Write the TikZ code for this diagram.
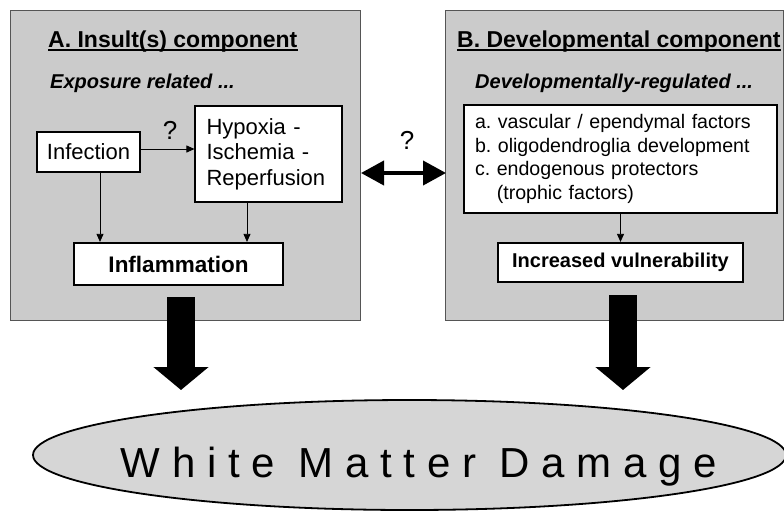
\documentclass[tikz,border=0pt]{standalone}
\usepackage{fontspec}
\setmainfont{Liberation Sans}
\newfontfamily\spacedfont[LetterSpace=28]{Liberation Sans}
\usetikzlibrary{arrows.meta,shapes.geometric}

\definecolor{panelfill}{RGB}{203,203,203}
\definecolor{ovalfill}{RGB}{214,214,214}
\definecolor{paneledge}{RGB}{85,85,85}

\begin{document}
\begin{tikzpicture}[x=1pt,y=-1pt,
  panel/.style={draw=paneledge, line width=0.9pt, fill=panelfill, inner sep=0pt},
  whitebox/.style={draw=black, fill=white, line width=1.1pt, inner sep=0pt},
  keybox/.style={draw=black, fill=white, line width=2.2pt, inner sep=0pt},
  heading/.style={anchor=base west, inner sep=0pt, font=\bfseries\fontsize{23}{27}\selectfont},
  subheading/.style={anchor=base west, inner sep=0pt, font=\bfseries\itshape\fontsize{20}{24}\selectfont},
  thinarrow/.style={-{Triangle[length=8pt,width=7pt]}, line width=0.8pt},
  bigarrow/.style={line width=28pt, -{Triangle[length=23pt,width=54pt]}},
  twoway/.style={{Triangle[length=23pt,width=24pt]}-{Triangle[length=23pt,width=24pt]}, line width=4pt},
  query/.style={inner sep=0pt}
]
\useasboundingbox (0,0) rectangle (784,512);
\fill[white] (0,0) rectangle (784,512);

% the two component panels
\node[panel, minimum width=350pt, minimum height=310pt] (panelA) at (185,165) {};
\node[panel, minimum width=338pt, minimum height=310pt] (panelB) at (614,165) {};

% panel A: insult(s) component
\node[heading] (tA) at (48,47) {A. Insult(s) component};
\draw[line width=1.5pt] ([yshift=-3pt]tA.base west) -- ([yshift=-3pt]tA.base east);
\node[subheading] (sA) at (50,88) {Exposure related ...};

\node[whitebox, minimum width=103pt, minimum height=40pt,
      font=\fontsize{22}{26}\selectfont] (inf) at (88.5,152) {Infection};
\node[whitebox, minimum width=147pt, minimum height=96pt, text width=124pt,
      align=left, font=\fontsize{22}{25.5}\selectfont] (hyp) at (268.5,154)
      {Hypoxia -\\Ischemia -\\Reperfusion};
\node[keybox, minimum width=209pt, minimum height=42pt,
      font=\bfseries\fontsize{22.5}{26}\selectfont] (infl) at (178.5,264) {Inflammation};

\node[query, font=\fontsize{26}{30}\selectfont] (qA) at (170,130) {?};
\draw[thinarrow] (inf.east |- 0,149) coordinate (ie) -- (hyp.west |- ie);
\draw[thinarrow] ([xshift=11.5pt]inf.south) coordinate (is) -- (is |- infl.north);
\draw[thinarrow] ([xshift=-21.5pt]hyp.south) coordinate (hs) -- (hs |- infl.north);

% panel B: developmental component
\node[heading] (tB) at (457,47) {B. Developmental component};
\draw[line width=1.5pt] ([yshift=-3pt]tB.base west) -- ([yshift=-3pt]tB.base east);
\node[subheading] (sB) at (475,88) {Developmentally-regulated ...};

\node[whitebox, minimum width=313pt, minimum height=108pt, text width=291pt,
      align=left, font=\fontsize{19.6}{23.5}\selectfont] (fac) at (620.5,159)
      {a.\ vascular / ependymal factors\\
       b.\ oligodendroglia development\\
       c.\ endogenous protectors\\
       \phantom{c.\ }(trophic factors)};
\node[keybox, minimum width=245pt, minimum height=39pt,
      font=\bfseries\fontsize{20}{24}\selectfont] (vul) at (620.5,262.5) {Increased vulnerability};
\draw[thinarrow] (fac.south) -- (vul.north);

% interaction between the two components
\coordinate (dl) at (361,173);
\coordinate (dr) at (446,173);
\draw[twoway] (dl) -- (dr);
\node[query, font=\fontsize{26}{30}\selectfont] (qM) at (407,140) {?};

% outcome
\node[ellipse, draw=black, line width=1.8pt, fill=ovalfill,
      minimum width=753pt, minimum height=110pt, inner sep=0pt] (wmd) at (409.5,455) {};
\node[anchor=base, inner sep=0pt, font=\spacedfont\fontsize{42}{46}\selectfont] (wmdtext)
      at (419,477) {White Matter Damage};

% heavy arrows from each component down to the outcome
\coordinate (la) at (181,297);
\coordinate (lb) at (181,390);
\coordinate (ra) at (623,295);
\coordinate (rb) at (623,390);
\draw[bigarrow] (la) -- (lb);
\draw[bigarrow] (ra) -- (rb);
\end{tikzpicture}
\end{document}
